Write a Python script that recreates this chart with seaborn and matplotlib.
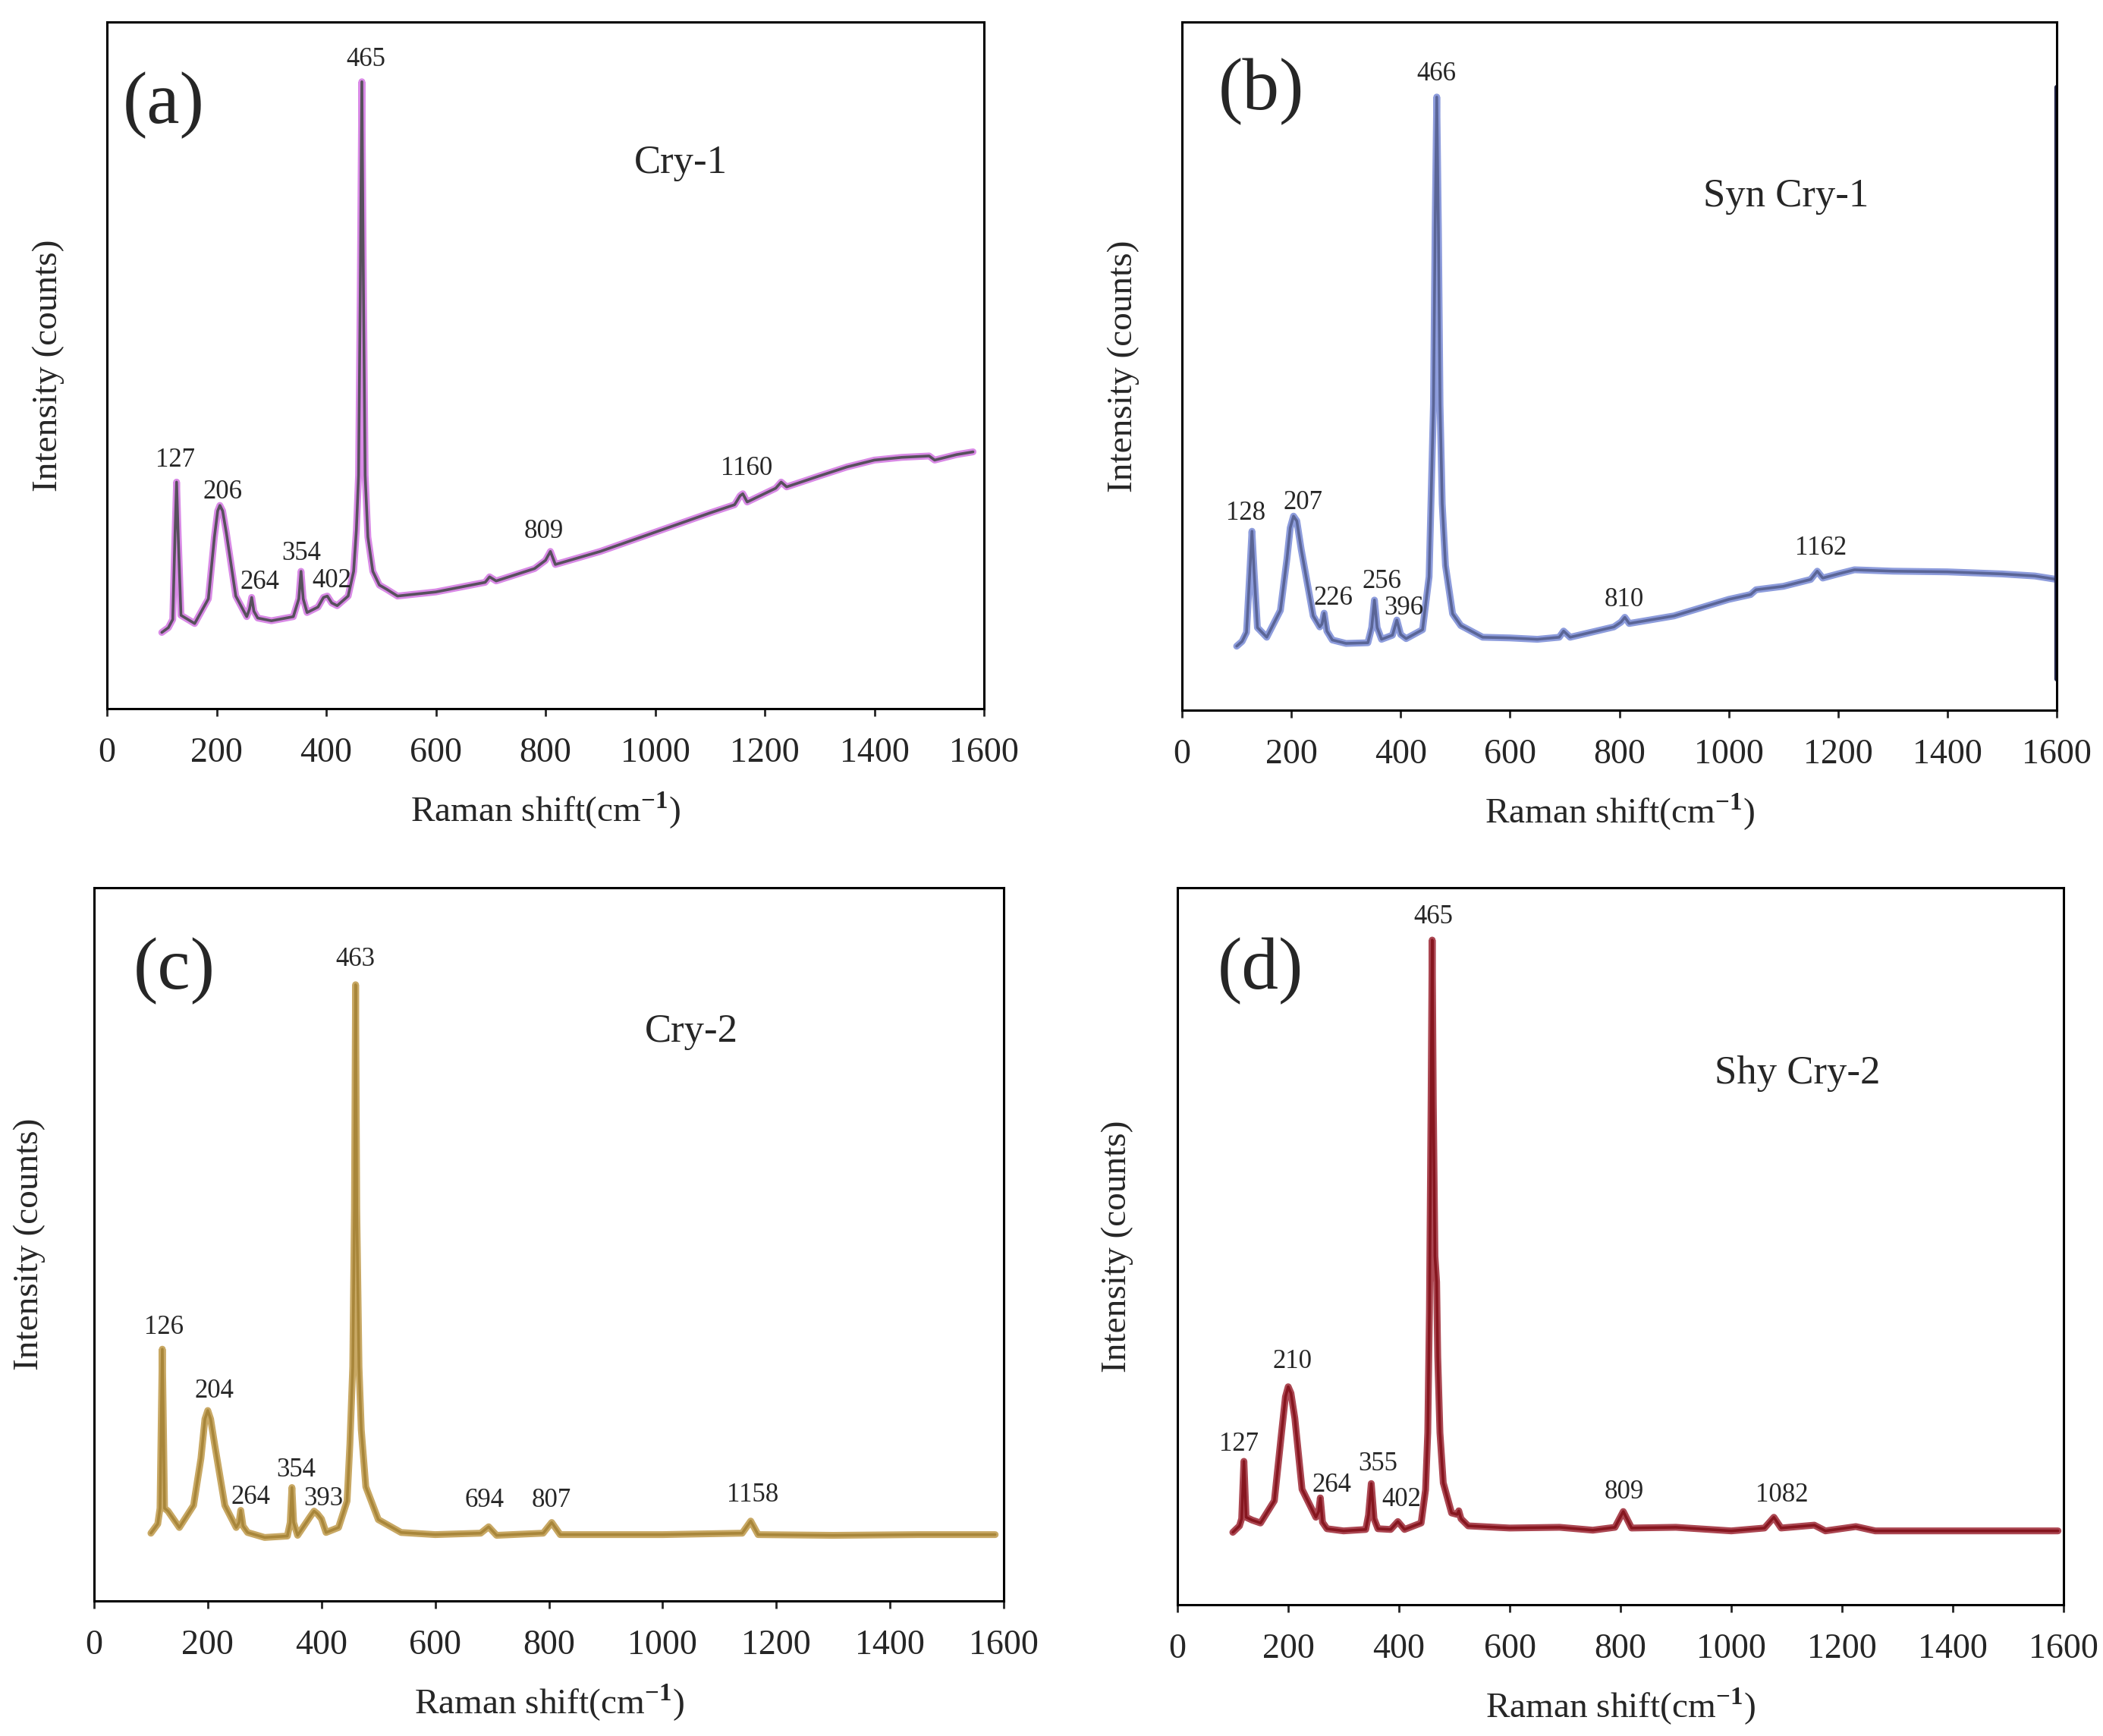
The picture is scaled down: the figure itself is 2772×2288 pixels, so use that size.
import matplotlib
matplotlib.use("Agg")
import pandas as pd
import matplotlib.pyplot as plt
import seaborn as sns

sns.set_style("ticks")
plt.rcParams["font.family"] = ["Liberation Serif", "DejaVu Serif"]
plt.rcParams["mathtext.fontset"] = "custom"
plt.rcParams["mathtext.rm"] = "Liberation Serif"
plt.rcParams["mathtext.bf"] = "Liberation Serif:bold"

# ----- spectra (intensity in % of axis height) -----
a_x = [100, 112, 120, 124, 127, 130, 135, 160, 185, 196, 202, 206, 211, 218, 235,
       255, 260, 264, 268, 275, 300, 340, 350, 354, 358, 365, 385, 395, 402, 410,
       420, 440, 450, 455, 459, 462, 465, 468, 471, 476, 485, 497, 510, 530, 600,
       690, 698, 710, 780, 800, 809, 818, 900, 1000, 1100, 1145, 1155, 1160, 1168, 1220,
       1230, 1240, 1300, 1350, 1400, 1450, 1500, 1510, 1550, 1580]
a_y = [11.1, 11.8, 13.0, 25.0, 33.0, 25.0, 13.6, 12.4, 16.0, 25.0, 28.8, 29.6, 28.8, 25.5, 16.4,
       13.4, 14.5, 16.2, 14.2, 13.2, 12.8, 13.4, 16.0, 20.0, 16.0, 14.0, 14.8, 16.2, 16.4, 15.4,
       15.0, 16.4, 20.0, 26.0, 34.0, 60.0, 91.3, 60.0, 34.0, 25.0, 20.0, 18.0, 17.4, 16.4, 17.0,
       18.4, 19.2, 18.6, 20.4, 21.6, 22.9, 21.0, 22.9, 25.7, 28.5, 29.7, 31.0, 31.3, 30.1, 32.1,
       33.0, 32.3, 33.9, 35.2, 36.2, 36.6, 36.8, 36.2, 37.0, 37.4]

b_x = [100, 110, 118, 124, 128, 132, 138, 155, 180, 192, 198, 204, 210, 218, 240,
       252, 256, 260, 265, 275, 300, 340, 347, 352, 357, 365, 385, 393, 400, 410,
       440, 452, 457, 460, 463, 466, 469, 472, 476, 482, 495, 510, 550, 600, 650,
       690, 698, 710, 790, 803, 810, 818, 900, 1000, 1040, 1050, 1060, 1100, 1150, 1162,
       1172, 1200, 1230, 1300, 1400, 1500, 1560, 1600]
b_y = [9.3, 10.0, 11.3, 20.0, 26.0, 20.0, 12.0, 10.6, 14.5, 22.0, 26.5, 28.2, 27.5, 23.4, 13.7,
       12.1, 12.5, 14.1, 11.5, 10.2, 9.7, 9.8, 12.0, 16.0, 12.0, 10.3, 10.9, 13.1, 11.0, 10.4,
       11.7, 19.4, 35.0, 44.4, 70.0, 89.1, 70.0, 44.4, 30.0, 21.0, 14.0, 12.3, 10.6, 10.5, 10.3,
       10.6, 11.5, 10.6, 12.1, 12.8, 13.5, 12.6, 13.7, 16.1, 16.8, 17.5, 17.6, 18.0, 19.0, 20.2,
       19.2, 19.8, 20.4, 20.2, 20.1, 19.8, 19.5, 19.0]

c_x = [100, 112, 116, 120, 124, 130, 150, 175, 188, 195, 200, 205, 212, 230, 250,
       255, 258, 262, 270, 300, 340, 345, 348, 351, 358, 380, 387, 393, 400, 408,
       430, 445, 450, 455, 458, 460, 462, 466, 470, 478, 500, 540, 600, 680, 694,
       708, 790, 805, 820, 1000, 1140, 1155, 1168, 1300, 1450, 1585]
c_y = [9.5, 10.8, 13.0, 35.3, 13.0, 12.6, 10.3, 13.4, 20.0, 25.5, 26.7, 25.5, 22.0, 13.4, 10.3,
       11.0, 12.7, 10.5, 9.6, 8.9, 9.1, 11.0, 15.9, 11.0, 9.2, 11.8, 12.6, 12.2, 11.5, 9.6,
       10.3, 14.0, 22.0, 32.8, 55.0, 86.4, 55.0, 32.8, 24.0, 16.0, 11.4, 9.6, 9.3, 9.5, 10.4,
       9.2, 9.5, 11.0, 9.3, 9.3, 9.5, 11.2, 9.3, 9.2, 9.3, 9.3]

d_x = [100, 112, 116, 120, 124, 135, 150, 175, 188, 195, 200, 205, 212, 225, 250,
       255, 258, 262, 270, 300, 340, 345, 350, 355, 362, 385, 398, 410, 440, 448,
       452, 455, 458, 460, 462, 465, 468, 470, 474, 480, 495, 505, 508, 512, 525,
       600, 690, 750, 790, 805, 820, 900, 1000, 1060, 1077, 1090, 1150, 1170, 1225, 1260,
       1590]
d_y = [10.1, 11.0, 12.0, 20.0, 12.2, 11.8, 11.4, 14.5, 24.0, 29.0, 30.4, 29.5, 26.0, 16.1, 12.2,
       13.0, 14.9, 11.5, 10.6, 10.3, 10.5, 12.5, 16.9, 12.0, 10.6, 10.5, 11.6, 10.5, 11.4, 16.0,
       24.0, 40.8, 70.0, 92.7, 70.0, 48.6, 45.0, 34.6, 24.0, 17.0, 12.8, 12.6, 13.1, 12.0, 11.0,
       10.7, 10.8, 10.4, 10.8, 13.0, 10.7, 10.8, 10.3, 10.7, 12.2, 10.7, 11.1, 10.3, 10.9, 10.3,
       10.3]

# ----- peak annotations: text, x (cm-1), y (% of axis height) -----
a_lab = ["127", "206", "264", "354", "402", "465", "809", "1160"]
a_lab_x = [125, 211, 279, 355, 410, 473, 797, 1167]
a_lab_y = [36.2, 31.5, 18.4, 22.6, 18.6, 94.5, 25.8, 35.0]

b_lab = ["128", "207", "226", "256", "396", "466", "810", "1162"]
b_lab_x = [117, 221, 277, 365, 406, 465, 809, 1168]
b_lab_y = [28.6, 30.2, 16.3, 18.7, 14.8, 92.5, 16.0, 23.5]

c_lab = ["126", "204", "264", "354", "393", "463", "694", "807", "1158"]
c_lab_x = [123, 212, 276, 355, 403, 459, 686, 805, 1159]
c_lab_y = [38.4, 29.4, 14.5, 18.4, 14.3, 89.9, 14.1, 14.1, 14.8]

d_lab = ["127", "210", "264", "355", "402", "465", "809", "1082"]
d_lab_x = [111, 207, 278, 362, 405, 462, 806, 1092]
d_lab_y = [22.4, 33.9, 16.7, 19.6, 14.7, 95.9, 15.7, 15.3]

letters = ["(a)", "(b)", "(c)", "(d)"]
letter_x = [104, 145, 141, 150]
letter_y = [87.9, 89.9, 88.3, 88.4]
samples = ["Cry-1", "Syn Cry-1", "Cry-2", "Shy Cry-2"]
sample_x = [1047, 1105, 1051, 1119]
sample_y = [79.4, 74.6, 79.8, 74.1]

panels = [
    dict(x=a_x, y=a_y, lab=a_lab, lx=a_lab_x, ly=a_lab_y, edge="#d98ae6", core="#57505c"),
    dict(x=b_x, y=b_y, lab=b_lab, lx=b_lab_x, ly=b_lab_y, edge="#8d9cdc", core="#5a6596"),
    dict(x=c_x, y=c_y, lab=c_lab, lx=c_lab_x, ly=c_lab_y, edge="#c8a864", core="#a8863a"),
    dict(x=d_x, y=d_y, lab=d_lab, lx=d_lab_x, ly=d_lab_y, edge="#ab4752", core="#86161f"),
]

# axes rectangles in figure pixels (left, top, right, bottom)
W, H = 2772, 2288
boxes = [(141, 29, 1297, 934), (1558, 29, 2711, 936),
         (124, 1170, 1323, 2110), (1552, 1170, 2720, 2115)]
ylabel_pad = [40, 40, 46, 42]

fig = plt.figure(figsize=(W / 100, H / 100), dpi=100)

for i, p in enumerate(panels):
    l, t, r, b = boxes[i]
    ax = fig.add_axes([l / W, 1 - b / H, (r - l) / W, (b - t) / H])
    df = pd.DataFrame({"shift": p["x"], "intensity": p["y"]})
    sns.lineplot(data=df, x="shift", y="intensity", ax=ax, color=p["edge"],
                 linewidth=6.5, estimator=None, sort=False)
    sns.lineplot(data=df, x="shift", y="intensity", ax=ax, color=p["core"],
                 linewidth=2.6, estimator=None, sort=False)

    for s, lx, ly in zip(p["lab"], p["lx"], p["ly"]):
        ax.text(lx, ly, s, ha="center", va="center", fontsize=25)
    ax.text(letter_x[i], letter_y[i], letters[i], ha="center", va="center", fontsize=70)
    ax.text(sample_x[i], sample_y[i], samples[i], ha="center", va="center", fontsize=38)

    ax.set_xlim(0, 1600)
    ax.set_ylim(0, 100)
    ax.set_xticks(range(0, 1601, 200))
    ax.set_yticks([])
    ax.tick_params(axis="x", direction="out", length=7, width=2.0, labelsize=33, pad=20)
    for sp in ax.spines.values():
        sp.set_linewidth(2.2)
        sp.set_color("black")
    ax.set_xlabel(r"Raman shift(cm$^{\mathbf{-1}}$)", fontsize=34, labelpad=20)
    ax.set_ylabel("Intensity (counts)", fontsize=34, labelpad=ylabel_pad[i])

    if i == 1:
        # dark stray bar along the right edge of panel (b)
        ax.axvline(1600, ymin=0.045, ymax=0.905, color="#1f2244", lw=4.5)

fig.savefig("out.png", dpi=100)
